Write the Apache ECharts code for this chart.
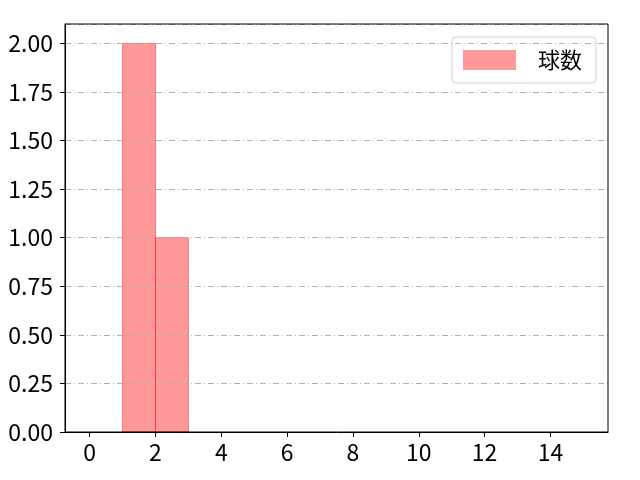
<!DOCTYPE html>
<html><head><meta charset="utf-8">
<script src="https://cdn.jsdelivr.net/npm/echarts@6/dist/echarts.min.js"></script>
<style>html,body{margin:0;padding:0;background:#fff}#c{width:640px;height:480px}</style>
</head><body><div id="c"></div>
<script>
const binStarts = [1, 2];
const binEnds = [2, 3];
const counts = [2, 1];
const seriesName = '球数';
const xTicks = [0, 2, 4, 6, 8, 10, 12, 14];

const font = '"Noto Sans CJK JP", "DejaVu Sans", sans-serif';
const chart = echarts.init(document.getElementById('c'));
const data = counts.map((c, i) => [binStarts[i], binEnds[i], c]);
chart.setOption({
  animation: false,
  grid: { left: 65, right: 32, top: 24, bottom: 48, show: true, borderColor: '#000', borderWidth: 1, backgroundColor: 'transparent', z: 7 },
  legend: {
    data: [{ name: seriesName, icon: 'rect' }],
    right: 44, top: 37, orient: 'vertical',
    itemWidth: 53, itemHeight: 20, itemGap: 10,
    padding: [12, 14, 12, 11],
    borderColor: '#d0d0d0', borderWidth: 1, borderRadius: 4, backgroundColor: '#fff',
    textStyle: { fontFamily: font, fontSize: 22, color: '#000', padding: [0, 0, 0, 17] }
  },
  xAxis: {
    type: 'value', min: -0.75, max: 15.75, z: 6,
    axisLine: { show: true, onZero: false, lineStyle: { color: '#000', width: 1 } },
    axisTick: { show: true, length: 5, lineStyle: { color: '#000' }, customValues: xTicks },
    axisLabel: { color: '#000', fontSize: 23, fontFamily: font, margin: 9, customValues: xTicks },
    splitLine: { show: false }
  },
  yAxis: {
    type: 'value', min: 0, max: 2.1, interval: 0.25, z: 5,
    axisLine: { show: true, onZero: false, lineStyle: { color: '#000', width: 1 } },
    axisTick: { show: true, length: 5, lineStyle: { color: '#000' } },
    axisLabel: { color: '#000', fontSize: 23, fontFamily: font, margin: 12, showMaxLabel: false,
      formatter: v => (v > 2.05 ? '' : v.toFixed(2)) },
    splitLine: { show: true, lineStyle: { color: '#b0b0b0', width: 1, type: [6, 3, 1, 3] } }
  },
  series: [{
    name: seriesName, type: 'custom', z: 2,
    itemStyle: { color: 'rgba(255,0,0,0.4)' },
    encode: { x: [0, 1], y: 2 },
    data: data,
    renderItem: function (params, api) {
      const p0 = api.coord([api.value(0), api.value(2)]);
      const p1 = api.coord([api.value(1), 0]);
      return {
        type: 'rect',
        shape: { x: p0[0], y: p0[1], width: p1[0] - p0[0], height: p1[1] - p0[1] },
        style: { fill: 'rgba(255,0,0,0.4)', stroke: 'rgba(240,30,30,0.5)', lineWidth: 1 }
      };
    }
  }]
});
</script></body></html>
